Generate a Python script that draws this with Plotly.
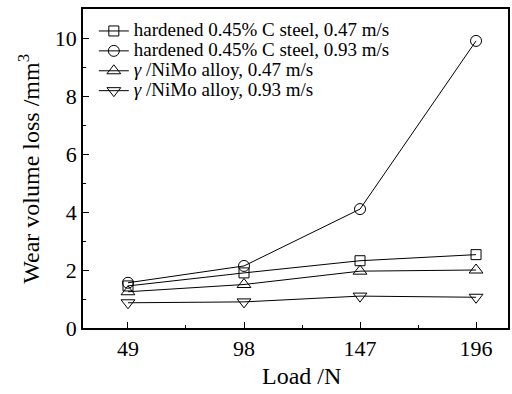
import plotly.graph_objects as go

loads = [49, 98, 147, 196]
steel_047 = [1.45, 1.9, 2.32, 2.53]
steel_093 = [1.56, 2.14, 4.1, 9.9]
nimo_047 = [1.25, 1.5, 1.96, 2.0]
nimo_093 = [0.87, 0.9, 1.1, 1.06]

names = [
    "hardened 0.45% C steel, 0.47 m/s",
    "hardened 0.45% C steel, 0.93 m/s",
    "<i>γ</i> /NiMo alloy, 0.47 m/s",
    "<i>γ</i> /NiMo alloy, 0.93 m/s",
]
series = [steel_047, steel_093, nimo_047, nimo_093]
symbols = ["square-open", "circle-open", "triangle-up-open", "triangle-down-open"]
sizes = [10, 11, 12, 12]

FONT = "Liberation Serif"

fig = go.Figure()
for n, s, sym, sz in zip(names, series, symbols, sizes):
    fig.add_trace(go.Scatter(
        x=loads, y=s, name='<span style="font-size:19px">' + n + "</span>",
        mode="lines+markers",
        line=dict(color="black", width=1),
        marker=dict(symbol=sym, size=sz, color="black", line=dict(color="black", width=1)),
    ))

fig.update_layout(
    width=512, height=394,
    margin=dict(l=83, r=4, t=9, b=66),
    paper_bgcolor="white", plot_bgcolor="white",
    font=dict(family=FONT, color="black", size=18),
    showlegend=True,
    legend=dict(x=0.0255, y=0.978, xanchor="left", yanchor="top",
                bgcolor="rgba(0,0,0,0)", font=dict(family=FONT, size=13),
                tracegroupgap=0, itemwidth=30),
    xaxis=dict(
        range=[30, 209.5], tickvals=loads, ticks="inside", ticklen=6,
        tickcolor="black", showline=True, linecolor="black", linewidth=1.5,
        mirror=True, showgrid=False, zeroline=False, automargin=False,
        tickfont=dict(size=22),
        minor=dict(tickvals=[73.5, 122.5, 171.5], ticks="inside", ticklen=3, tickcolor="black"),
    ),
    yaxis=dict(
        range=[0, 11], tickvals=[0, 2, 4, 6, 8, 10], ticks="inside", ticklen=6,
        tickcolor="black", showline=True, linecolor="black", linewidth=1.5,
        mirror=True, showgrid=False, zeroline=False, automargin=False,
        tickfont=dict(size=22),
        minor=dict(tickvals=[1, 3, 5, 7, 9], ticks="inside", ticklen=3, tickcolor="black"),
    ),
    annotations=[
        dict(
            text="Wear volume loss /mm<sup>3</sup>", textangle=-90,
            xref="paper", yref="paper", x=-0.129, y=0.5,
            xanchor="center", yanchor="middle", showarrow=False,
            font=dict(family=FONT, size=24),
        ),
        dict(
            text="Load /N",
            xref="paper", yref="paper", x=0.515, y=-0.15,
            xanchor="center", yanchor="middle", showarrow=False,
            font=dict(family=FONT, size=24),
        ),
    ],
)

fig.write_html(
    "out.html",
    config={"displayModeBar": False},
    post_script="document.body.style.margin='0';document.documentElement.style.overflow='hidden';",
)
